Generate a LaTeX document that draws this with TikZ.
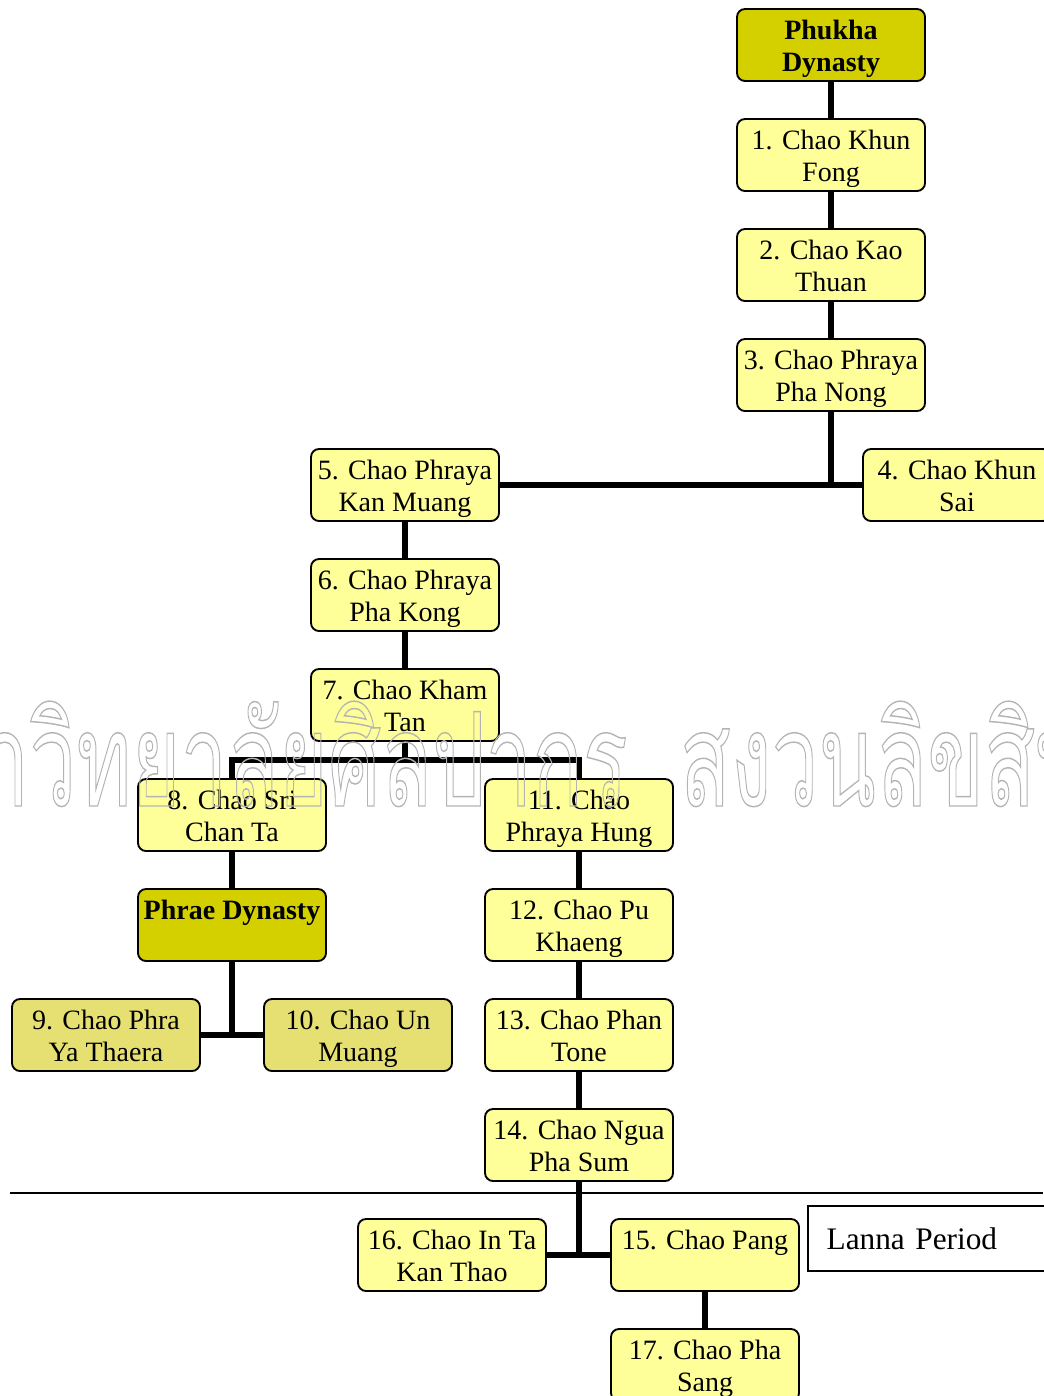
\documentclass[tikz,border=0pt]{standalone}
\usepackage{fontspec}
\setmainfont{Liberation Serif}
\newfontfamily\thaifont[Script=Thai]{Loma}
\usepackage{xcolor}
\usepackage{tikz}
\usetikzlibrary{positioning, calc}
% outline-only text through xdvipdfmx
\newcommand{\outlinetext}[1]{%
  \special{pdf:literal direct 1 Tr 1.1 w}#1\special{pdf:literal direct 0 Tr}}

\begin{document}
\begin{tikzpicture}[
    x=0.75pt, y=-0.75pt,
    node distance=28.5pt and 40pt,
]
\definecolor{rulerFill}{HTML}{FFFF99}
\definecolor{dynastyFill}{HTML}{D4D000}
\definecolor{phraeFill}{HTML}{E6E073}
\definecolor{markGray}{HTML}{B4B4B4}

\tikzset{
    ruler/.style={
        rectangle, rounded corners=6pt, draw=black, line width=1.4pt,
        fill=rulerFill, minimum width=141pt, minimum height=54pt,
        text height=44pt, text depth=5pt,
        inner sep=2pt, outer sep=0pt, align=center,
        font=\fontsize{21}{24}\selectfont,
    },
    dynasty/.style={ruler, fill=dynastyFill, font=\fontsize{21}{24}\selectfont\bfseries},
    phrae/.style={ruler, fill=phraeFill},
    periodbox/.style={
        rectangle, draw=black, line width=1.4pt, fill=white,
        minimum height=48.75pt, text width=170pt, inner xsep=14pt,
        align=left, font=\fontsize{23.5}{26}\selectfont,
    },
    lineage/.style={draw=black, line width=3.8pt},
    watermark/.style={font=\fontsize{98}{110}\thaifont, text=markGray, inner sep=0pt},
}

\useasboundingbox (0,0) rectangle (1043,1396);

% Phukha line, top right
\node[dynasty] (phukha) at (831,45) {Phukha\\Dynasty};
\node[ruler, below=of phukha] (r1) {1. Chao Khun\\Fong};
\node[ruler, below=of r1] (r2) {2. Chao Kao\\Thuan};
\node[ruler, below=of r2] (r3) {3. Chao Phraya\\Pha Nong};
\node[ruler, below=of r3, xshift=94.5pt] (r4) {4. Chao Khun\\Sai};
\node[ruler, below=of r3, xshift=-319.5pt] (r5) {5. Chao Phraya\\Kan Muang};
\node[ruler, below=of r5] (r6) {6. Chao Phraya\\Pha Kong};
\node[ruler, below=of r6] (r7) {7. Chao Kham\\Tan};

% the split into the Phrae branch and the main line
\node[ruler, below=of r7, xshift=-129.75pt] (r8) {8. Chao Sri\\Chan Ta};
\node[ruler, below=of r7, xshift=130.5pt] (r11) {11. Chao\\Phraya Hung};
\node[dynasty, below=of r8] (phrae) {Phrae Dynasty\\~};
\node[phrae, below=of phrae, xshift=-94.5pt] (r9) {9. Chao Phra\\Ya Thaera};
\node[phrae, below=of phrae, xshift=94.5pt] (r10) {10. Chao Un\\Muang};
\node[ruler, below=of r11] (r12) {12. Chao Pu\\Khaeng};
\node[ruler, below=of r12] (r13) {13. Chao Phan\\Tone};
\node[ruler, below=of r13] (r14) {14. Chao Ngua\\Pha Sum};
\node[ruler, below=of r14, xshift=94.5pt] (r15) {15. Chao Pang\\~};
\node[ruler, below=of r14, xshift=-95.25pt] (r16) {16. Chao In Ta\\Kan Thao};
\node[ruler, below=of r15] (r17) {17. Chao Pha\\Sang};

\node[periodbox, anchor=north west] (lanna) at (807,1205) {Lanna Period};

\coordinate (sepL) at (10,1193);
\coordinate (sepR) at (1043,1193);
\draw[line width=1.4pt] (sepL) -- (sepR);

\draw[lineage] (phukha) -- (r1);
\draw[lineage] (r1) -- (r2);
\draw[lineage] (r2) -- (r3);
\draw[lineage] (r3.south) -- (r3.south |- r4.west);
\draw[lineage] (r5.east) -- (r4.west);
\draw[lineage] (r5) -- (r6);
\draw[lineage] (r6) -- (r7);

\coordinate (fork7) at ($(r7.south)!0.5!(r7.south |- r8.north)$);
\draw[lineage] (r7.south) -- (fork7);
\draw[lineage] (r8.north) |- (fork7) -| (r11.north);

\draw[lineage] (r8) -- (phrae);
\draw[lineage] (phrae.south) -- (phrae.south |- r9.east);
\draw[lineage] (r9.east) -- (r10.west);

\draw[lineage] (r11) -- (r12);
\draw[lineage] (r12) -- (r13);
\draw[lineage] (r13) -- (r14);
\draw[lineage] (r14.south) -- (r14.south |- r16.east);
\draw[lineage] (r16.east) -- (r15.west);
\draw[lineage] (r15) -- (r17);

% outlined watermark lies over the chart
\node[watermark, anchor=base west] (mark) at (-128,806)
    {\scalebox{0.64}[1]{\outlinetext{มหาวิทยาลัยศิลปากร\hspace{28pt} สงวนลิขสิทธิ์}}};

\end{tikzpicture}
\end{document}
